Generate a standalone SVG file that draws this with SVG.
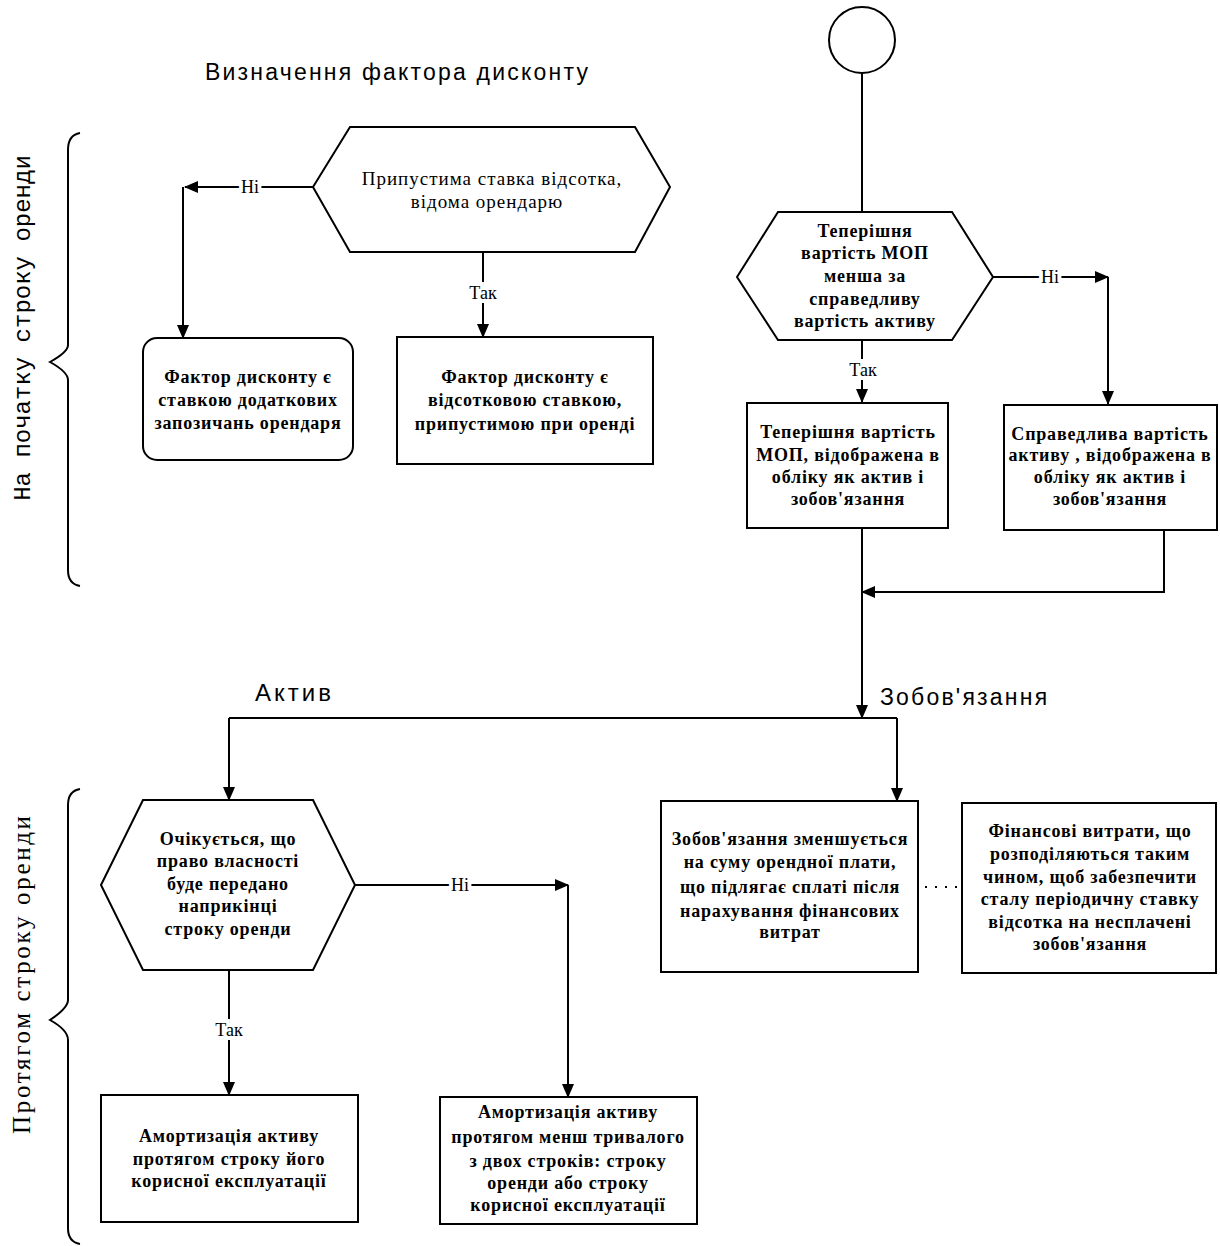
<svg xmlns="http://www.w3.org/2000/svg" width="1220" height="1246" viewBox="0 0 1220 1246">
<style>
.shape{fill:#fff;stroke:#000;stroke-width:2}
.line{fill:none;stroke:#000;stroke-width:2}
.brace{fill:none;stroke:#000;stroke-width:2}
.t{font-family:"Liberation Serif",serif;font-size:18px;font-weight:bold;letter-spacing:0.8px;text-anchor:middle;fill:#000}
.tn{font-family:"Liberation Serif",serif;font-size:19px;letter-spacing:1px;text-anchor:middle;fill:#000}
.lbl{font-family:"Liberation Serif",serif;font-size:18px;text-anchor:middle;fill:#000;paint-order:stroke;stroke:#fff;stroke-width:8px}
.big{font-family:"Liberation Sans",sans-serif;font-size:23px;fill:#000;letter-spacing:2.2px}
</style>
<defs>
<marker id="ah" markerUnits="userSpaceOnUse" markerWidth="14" markerHeight="12" refX="13" refY="6" orient="auto">
<path d="M0,0 L14,6 L0,12 z" fill="#000"/>
</marker>
</defs>

<text class="big" x="205" y="80">Визначення фактора дисконту</text>

<g id="brace-top">
<path class="brace" d="M80,133 Q68,135 68,150 L68,345 Q68,352 50,362 Q68,372 68,380 L68,570 Q68,584 80,586"/>
<text x="30" y="328" transform="rotate(-90 30 328)" style="font-family:'Liberation Mono',monospace;font-size:24px;text-anchor:middle">На початку строку оренди</text>
</g>

<g id="brace-bottom">
<path class="brace" d="M80,789 Q68,791 68,805 L68,1000 Q68,1008 50,1020 Q68,1030 68,1040 L68,1228 Q68,1242 80,1244"/>
<text x="30" y="975" transform="rotate(-90 30 975)" textLength="318" style="font-family:'Liberation Serif',serif;font-size:25px;text-anchor:middle">Протягом строку оренди</text>
</g>

<g id="connectors">
<path class="line" d="M313,187 H185" marker-end="url(#ah)"/>
<path class="line" d="M183,187 V338" marker-end="url(#ah)"/>
<text class="lbl" x="250" y="193">Ні</text>
<path class="line" d="M483,252 V337" marker-end="url(#ah)"/>
<text class="lbl" x="483" y="299">Так</text>

<path class="line" d="M862,73 V212"/>
<path class="line" d="M993,277 H1108" marker-end="url(#ah)"/>
<path class="line" d="M1108,277 V404" marker-end="url(#ah)"/>
<text class="lbl" x="1050" y="283">Ні</text>
<path class="line" d="M862,340 V402" marker-end="url(#ah)"/>
<text class="lbl" x="863" y="376">Так</text>

<path class="line" d="M1164,530 V592 H862" marker-end="url(#ah)"/>
<path class="line" d="M862,528 V718" marker-end="url(#ah)"/>
<path class="line" d="M229,718 H897"/>
<path class="line" d="M229,718 V800" marker-end="url(#ah)"/>
<path class="line" d="M897,718 V801" marker-end="url(#ah)"/>
<text class="big" x="255" y="701" style="font-size:24px;letter-spacing:3px">Актив</text>
<text class="big" x="880" y="705">Зобов'язання</text>

<path class="line" d="M355,885 H568" marker-end="url(#ah)"/>
<path class="line" d="M568,885 V1097" marker-end="url(#ah)"/>
<text class="lbl" x="460" y="891">Ні</text>
<path class="line" d="M229,970 V1095" marker-end="url(#ah)"/>
<text class="lbl" x="229" y="1036">Так</text>

<path d="M925,887 H958" fill="none" stroke="#000" stroke-width="2" stroke-dasharray="2,8"/>
</g>

<g id="hex-rate">
<polygon class="shape" points="313,187 350,127 635,127 670,187 635,252 350,252"/>
<text class="tn" x="492" y="185">Припустима ставка відсотка,</text>
<text class="tn" x="487" y="208">відома орендарю</text>
</g>

<g id="box-incremental">
<rect class="shape" x="143" y="338" width="210" height="122" rx="14"/>
<text class="t" x="248" y="383">Фактор дисконту  є</text>
<text class="t" x="248" y="406">ставкою додаткових</text>
<text class="t" x="248" y="429">запозичань орендаря</text>
</g>

<g id="box-implicit">
<rect class="shape" x="397" y="337" width="256" height="127"/>
<text class="t" x="525" y="383">Фактор дисконту є</text>
<text class="t" x="525" y="406">відсотковою ставкою,</text>
<text class="t" x="525" y="430">припустимою при оренді</text>
</g>

<g id="start">
<circle class="shape" cx="862" cy="40" r="33"/>
</g>

<g id="hex-pv">
<polygon class="shape" points="737,277 778,212 952,212 993,277 952,340 778,340"/>
<text class="t" x="865" y="237">Теперішня</text>
<text class="t" x="865" y="259">вартість МОП</text>
<text class="t" x="865" y="282">менша за</text>
<text class="t" x="865" y="305">справедливу</text>
<text class="t" x="865" y="327">вартість активу</text>
</g>

<g id="box-pv">
<rect class="shape" x="747" y="403" width="201" height="125"/>
<text class="t" x="848" y="438">Теперішня вартість</text>
<text class="t" x="848" y="461">МОП, відображена в</text>
<text class="t" x="848" y="483">обліку як актив і</text>
<text class="t" x="848" y="505">зобов'язання</text>
</g>

<g id="box-fv">
<rect class="shape" x="1004" y="405" width="213" height="125"/>
<text class="t" x="1110" y="440">Справедлива вартість</text>
<text class="t" x="1110" y="461">активу , відображена в</text>
<text class="t" x="1110" y="483">обліку як актив і</text>
<text class="t" x="1110" y="505">зобов'язання</text>
</g>

<g id="hex-ownership">
<polygon class="shape" points="101,885 143,800 313,800 355,885 313,970 143,970"/>
<text class="t" x="228" y="845">Очікується, що</text>
<text class="t" x="228" y="867">право власності</text>
<text class="t" x="228" y="890">буде передано</text>
<text class="t" x="228" y="912">наприкінці</text>
<text class="t" x="228" y="935">строку оренди</text>
</g>

<g id="box-useful-life">
<rect class="shape" x="101" y="1095" width="257" height="127"/>
<text class="t" x="229" y="1142">Амортизація активу</text>
<text class="t" x="229" y="1165">протягом строку його</text>
<text class="t" x="229" y="1187">корисної експлуатації</text>
</g>

<g id="box-shorter">
<rect class="shape" x="440" y="1097" width="257" height="127"/>
<text class="t" x="568" y="1118">Амортизація активу</text>
<text class="t" x="568" y="1143">протягом менш тривалого</text>
<text class="t" x="568" y="1167">з двох строків: строку</text>
<text class="t" x="568" y="1189">оренди або строку</text>
<text class="t" x="568" y="1211">корисної експлуатації</text>
</g>

<g id="box-liability">
<rect class="shape" x="661" y="801" width="257" height="171"/>
<text class="t" x="790" y="845">Зобов'язання зменшується</text>
<text class="t" x="790" y="868">на суму орендної плати,</text>
<text class="t" x="790" y="893">що підлягає сплаті після</text>
<text class="t" x="790" y="917">нарахування фінансових</text>
<text class="t" x="790" y="938">витрат</text>
</g>

<g id="box-finance">
<rect class="shape" x="962" y="803" width="254" height="170"/>
<text class="t" x="1090" y="837">Фінансові витрати, що</text>
<text class="t" x="1090" y="860">розподіляються таким</text>
<text class="t" x="1090" y="883">чином, щоб забезпечити</text>
<text class="t" x="1090" y="905">сталу періодичну ставку</text>
<text class="t" x="1090" y="928">відсотка на несплачені</text>
<text class="t" x="1090" y="950">зобов'язання</text>
</g>
</svg>
